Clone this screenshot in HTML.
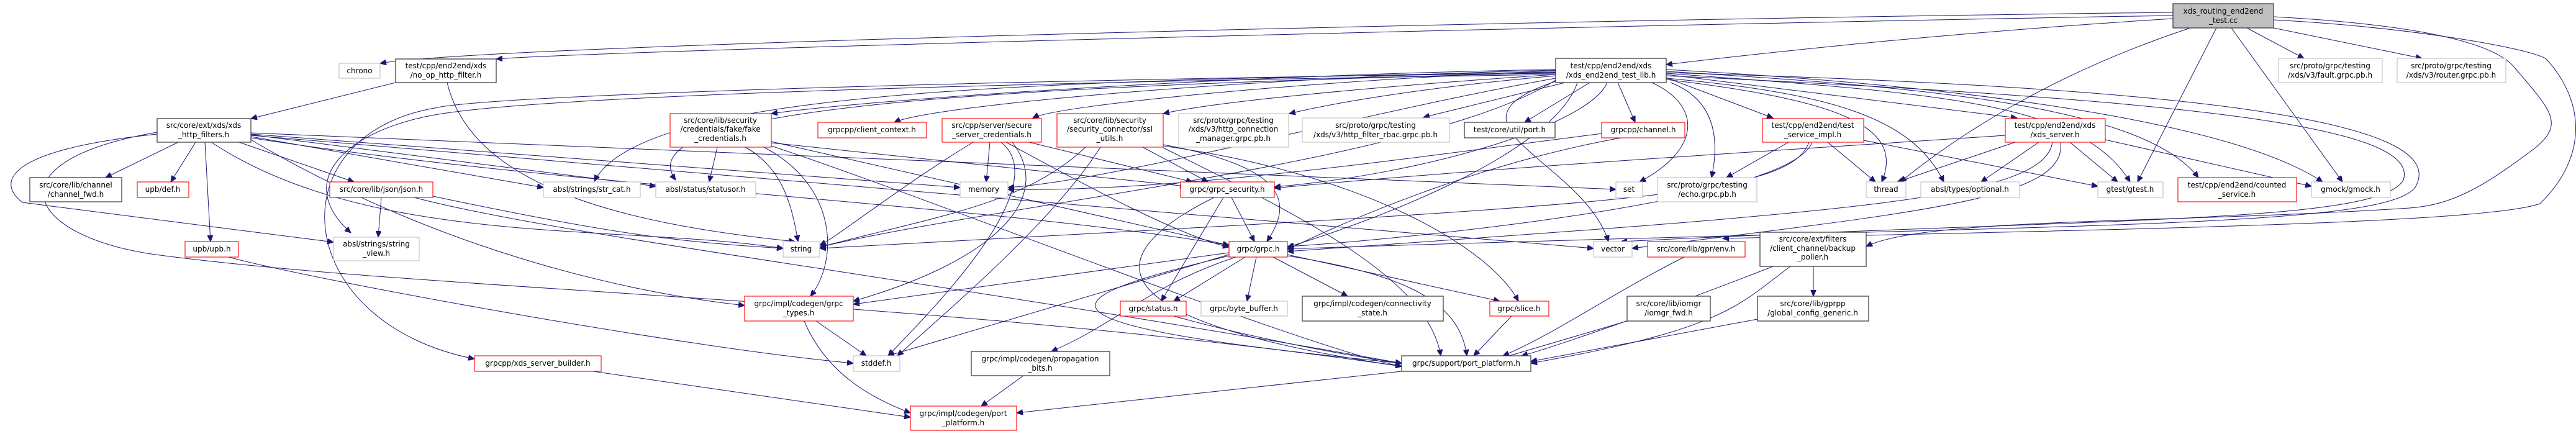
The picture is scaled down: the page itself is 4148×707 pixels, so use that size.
<!DOCTYPE html>
<html><head><meta charset="utf-8"><style>
html,body{margin:0;padding:0;background:#fff;}
svg{display:block;}
text{font-family:"DejaVu Sans","Liberation Sans",sans-serif;font-size:12px;fill:#000;text-anchor:middle;}
.k{fill:#fff;stroke:#404040;stroke-width:1.3;}
.r{fill:#fff;stroke:#ff0000;stroke-width:1.1;}
.g{fill:#fff;stroke:#bfbfbf;stroke-width:1.1;}
.root{fill:#bfbfbf;stroke:#404040;stroke-width:1.3;}
path{fill:none;stroke:#191970;stroke-width:1;marker-end:url(#a);}
</style></head><body>
<svg width="4148" height="707" viewBox="0 0 4148 707" xmlns="http://www.w3.org/2000/svg">
<defs><marker id="a" markerUnits="userSpaceOnUse" markerWidth="11" markerHeight="9" refX="10" refY="4.5" orient="auto"><polygon points="0,0 10,4.5 0,9" fill="#191970" stroke="#191970"/></marker></defs>

<!-- edges from root -->
<path d="M3499,20 C2600,30 800,70 612,102"/>
<path d="M3499,25 C2600,40 1000,80 799,95"/>
<path d="M3499,30 C3100,55 2800,90 2683,104"/>
<path d="M3618,45 L3710,94"/>
<path d="M3661,45 L3900,94"/>
<path d="M3593,45 L3772,293"/>
<path d="M3569,45 L3442,293"/>
<path d="M3527,45 C3300,120 3150,220 3060,293"/>
<path d="M3661,27 C3900,40 4020,70 4050,110 C4110,180 4130,200 4080,240 C4000,300 3950,330 3880,335 C3500,360 3100,350 3005,397"/>
<path d="M3661,32 C3900,45 4080,80 4100,95 C4160,160 4170,250 4090,328 C4000,360 3400,370 2774,384"/>

<!-- lib.h edges -->
<path d="M2505,120 C1800,130 900,150 700,185 C560,210 470,290 565,375"/>
<path d="M2505,118 C1800,125 800,150 700,174 C440,220 470,520 764,578"/>
<path d="M2505,116 C1600,130 1030,150 957,292"/>
<path d="M2505,117 C1600,140 1000,170 1088,290"/>
<path d="M2505,112 C2000,120 1400,160 1242,183"/>
<path d="M2505,113 C2000,125 1500,170 1440,197"/>
<path d="M2505,114 C2100,130 1700,170 1663,190"/>
<path d="M2505,120 C2200,140 1950,165 1873,183"/>
<path d="M2505,122 C2300,140 2150,165 2076,183"/>
<path d="M2520,133 L2292,189"/>
<path d="M2560,133 L2455,197"/>
<path d="M2605,133 L2633,197"/>
<path d="M2660,133 C2740,170 2740,240 2640,293"/>
<path d="M2690,133 C2760,160 2770,220 2756,286"/>
<path d="M2505,126 C2200,180 1800,290 1623,302"/>
<path d="M2505,129 C2300,260 1600,330 1320,398"/>
<path d="M2588,133 C2560,200 2300,280 2052,301"/>
<path d="M2540,133 C2500,250 2200,360 2073,398"/>
<path d="M2505,131 C2300,200 2550,260 2590,389"/>
<path d="M2683,118 C3100,150 3350,160 3430,293"/>
<path d="M2683,125 L2855,190"/>
<path d="M2683,120 L3248,190"/>
<path d="M2683,115 C3100,140 3450,170 3540,286"/>
<path d="M2683,112 C3200,140 3600,200 3740,293"/>
<path d="M2683,128 C2950,160 3070,200 3030,293"/>
<path d="M2683,126 C2950,150 3080,190 3130,293"/>
<path d="M2683,122 C3500,160 3900,200 3870,290 C3830,360 3400,350 2610,389"/>
<path d="M2683,117 C3500,140 3950,190 3890,300 C3850,370 3300,360 2100,400 L2073,400"/>

<!-- no_op edges -->
<path d="M637,133 L404,191"/>
<path d="M720,133 C760,300 1000,360 1280,389"/>

<!-- xds_http_filters edges -->
<path d="M287,229 L170,286"/>
<path d="M315,229 L275,293"/>
<path d="M330,229 L339,389"/>
<path d="M385,229 L570,293"/>
<path d="M253,216 C20,240 -10,290 36,326 L537,390"/>
<path d="M253,213 C-20,260 40,380 250,410 C700,470 1500,480 2257,590"/>
<path d="M340,229 C600,400 1000,360 1261,400"/>
<path d="M404,225 C700,400 1000,470 1199,492"/>
<path d="M404,220 L875,302"/>
<path d="M404,217 L1056,300"/>
<path d="M404,216 L1546,302"/>
<path d="M404,214 L2602,305"/>
<path d="M404,218 L2566,400"/>
<path d="M404,222 C900,300 1600,330 1979,395"/>
<path d="M368,414 C500,450 1100,560 1374,585"/>

<!-- fake_credentials -->
<path d="M1155,237 L1142,293"/>
<path d="M1200,237 C1260,270 1275,330 1285,389"/>
<path d="M1230,237 C1350,300 1350,420 1305,477"/>
<path d="M1242,228 L1979,395"/>
<path d="M1242,230 L1910,300"/>
<path d="M1242,235 C1500,320 2100,560 2257,590"/>

<!-- secure_server_credentials -->
<path d="M1594,229 L1588,293"/>
<path d="M1567,229 C1450,300 1350,380 1320,395"/>
<path d="M1612,229 C1700,300 1500,500 1430,573"/>
<path d="M1630,229 C1700,320 1600,420 1374,485"/>
<path d="M1657,229 L1920,293"/>
<path d="M1620,229 C1750,300 1900,380 1979,398"/>

<!-- ssl_utils -->
<path d="M1840,237 L1945,293"/>
<path d="M1873,233 C2080,270 2080,330 2040,389"/>
<path d="M1772,237 C1700,350 1550,480 1445,573"/>
<path d="M1748,237 C1650,330 1500,350 1320,398"/>
<path d="M1873,235 C2200,280 2400,400 2445,485"/>
<path d="M1873,238 C2100,350 2300,450 2320,573"/>

<!-- channel.h -->
<path d="M2610,222 C2400,260 2200,340 2073,402"/>
<path d="M2580,215 C2300,250 1900,310 1623,305"/>

<!-- grpc_security -->
<path d="M1983,318 L2020,389"/>
<path d="M1970,318 L1870,485"/>
<path d="M1955,318 C1750,420 1780,520 2257,590"/>

<!-- grpc.h -->
<path d="M2005,414 L1890,485"/>
<path d="M2023,414 L2008,485"/>
<path d="M2050,414 L2170,477"/>
<path d="M2073,410 L2415,485"/>
<path d="M2073,412 C2250,440 2350,480 2362,573"/>
<path d="M1979,410 L1430,573"/>
<path d="M1979,407 L1374,490"/>
<path d="M1990,414 C1850,460 1800,520 1693,566"/>
<path d="M1979,412 C1700,480 1600,520 2257,585"/>

<path d="M1890,509 C2000,540 2150,570 2257,585"/>
<path d="M2434,509 L2373,573"/>
<path d="M1314,517 L1395,573"/>
<path d="M1295,517 C1330,600 1400,640 1466,665"/>
<path d="M1648,605 L1580,654"/>
<path d="M2257,598 L1637,665"/>
<path d="M955,598 L1466,672"/>

<!-- backup poller etc -->
<path d="M2920,429 L2920,477"/>
<path d="M2855,429 C2700,490 2500,560 2450,573"/>
<path d="M2883,429 C2800,490 2780,530 2465,585"/>
<path d="M2830,514 L2465,582"/>
<path d="M2620,517 L2420,576"/>
<path d="M2712,414 C2600,470 2500,540 2420,573"/>

<!-- json -->
<path d="M614,318 L609,382"/>
<path d="M697,316 C1000,380 1100,390 1261,400"/>
<path d="M667,318 C900,380 1500,450 2257,585"/>

<!-- test_service_impl -->
<path d="M2943,229 L3020,293"/>
<path d="M3001,226 L3378,300"/>
<path d="M2880,229 L2780,286"/>
<path d="M2913,229 C2880,320 2600,330 1320,400"/>
<path d="M2918,229 C2880,330 2200,390 2073,397"/>

<!-- xds_server -->
<path d="M3245,229 L3055,293"/>
<path d="M3283,229 L3190,293"/>
<path d="M3333,229 L3410,293"/>
<path d="M3390,225 L3722,300"/>
<path d="M3229,218 C2900,240 2400,270 2052,303"/>
<path d="M3305,229 C3290,320 3000,340 2073,405"/>
<path d="M3318,229 C3330,320 3100,340 2628,400"/>

<!-- nodes -->
<rect class="root" x="3499" y="6" width="162" height="39"/>
<text x="3580" y="22">xds_routing_end2end</text><text x="3580" y="37">_test.cc</text>

<rect class="k" x="2505" y="94" width="178" height="39"/>
<text x="2594" y="110">test/cpp/end2end/xds</text><text x="2594" y="125">/xds_end2end_test_lib.h</text>

<rect class="k" x="637" y="95" width="162" height="38"/>
<text x="718" y="110">test/cpp/end2end/xds</text><text x="718" y="125">/no_op_http_filter.h</text>

<rect class="g" x="546" y="102" width="66" height="24"/><text x="579" y="118">chrono</text>

<rect class="g" x="3669" y="94" width="167" height="39"/>
<text x="3752" y="110">src/proto/grpc/testing</text><text x="3752" y="125">/xds/v3/fault.grpc.pb.h</text>
<rect class="g" x="3860" y="94" width="175" height="39"/>
<text x="3947" y="110">src/proto/grpc/testing</text><text x="3947" y="125">/xds/v3/router.grpc.pb.h</text>

<rect class="k" x="253" y="191" width="151" height="38"/>
<text x="328" y="206">src/core/ext/xds/xds</text><text x="328" y="221">_http_filters.h</text>

<rect class="r" x="1079" y="183" width="163" height="54"/>
<text x="1160" y="198">src/core/lib/security</text><text x="1160" y="212">/credentials/fake/fake</text><text x="1160" y="227">_credentials.h</text>

<rect class="r" x="1317" y="197" width="175" height="25"/><text x="1404" y="213">grpcpp/client_context.h</text>

<rect class="r" x="1517" y="191" width="160" height="38"/>
<text x="1597" y="206">src/cpp/server/secure</text><text x="1597" y="221">_server_credentials.h</text>

<rect class="r" x="1702" y="183" width="171" height="54"/>
<text x="1787" y="198">src/core/lib/security</text><text x="1787" y="212">/security_connector/ssl</text><text x="1787" y="227">_utils.h</text>

<rect class="g" x="1898" y="183" width="177" height="54"/>
<text x="1986" y="198">src/proto/grpc/testing</text><text x="1986" y="212">/xds/v3/http_connection</text><text x="1986" y="227">_manager.grpc.pb.h</text>

<rect class="g" x="2097" y="190" width="237" height="39"/>
<text x="2215" y="206">src/proto/grpc/testing</text><text x="2215" y="221">/xds/v3/http_filter_rbac.grpc.pb.h</text>

<rect class="k" x="2358" y="197" width="146" height="25"/><text x="2431" y="213">test/core/util/port.h</text>
<rect class="r" x="2579" y="197" width="134" height="25"/><text x="2646" y="213">grpcpp/channel.h</text>

<rect class="r" x="2838" y="191" width="163" height="38"/>
<text x="2919" y="206">test/cpp/end2end/test</text><text x="2919" y="221">_service_impl.h</text>
<rect class="r" x="3229" y="191" width="161" height="38"/>
<text x="3309" y="206">test/cpp/end2end/xds</text><text x="3309" y="221">/xds_server.h</text>

<rect class="k" x="48" y="286" width="148" height="39"/>
<text x="122" y="302">src/core/lib/channel</text><text x="122" y="317">/channel_fwd.h</text>
<rect class="r" x="221" y="293" width="83" height="25"/><text x="262" y="309">upb/def.h</text>
<rect class="r" x="531" y="293" width="166" height="25"/><text x="614" y="309">src/core/lib/json/json.h</text>
<rect class="g" x="875" y="293" width="156" height="25"/><text x="953" y="309">absl/strings/str_cat.h</text>
<rect class="g" x="1056" y="293" width="161" height="25"/><text x="1136" y="309">absl/status/statusor.h</text>
<rect class="g" x="1546" y="293" width="77" height="25"/><text x="1584" y="309">memory</text>
<rect class="r" x="1901" y="293" width="151" height="25"/><text x="1976" y="309">grpc/grpc_security.h</text>
<rect class="g" x="2602" y="293" width="43" height="25"/><text x="2623" y="309">set</text>
<rect class="g" x="2669" y="286" width="160" height="39"/>
<text x="2749" y="302">src/proto/grpc/testing</text><text x="2749" y="317">/echo.grpc.pb.h</text>
<rect class="g" x="3005" y="293" width="64" height="25"/><text x="3037" y="309">thread</text>
<rect class="g" x="3093" y="293" width="159" height="25"/><text x="3172" y="309">absl/types/optional.h</text>
<rect class="g" x="3378" y="293" width="105" height="25"/><text x="3430" y="309">gtest/gtest.h</text>
<rect class="r" x="3507" y="286" width="191" height="39"/>
<text x="3602" y="302">test/cpp/end2end/counted</text><text x="3602" y="317">_service.h</text>
<rect class="g" x="3722" y="293" width="127" height="25"/><text x="3785" y="309">gmock/gmock.h</text>

<rect class="r" x="298" y="389" width="86" height="25"/><text x="341" y="405">upb/upb.h</text>
<rect class="g" x="537" y="382" width="138" height="38"/>
<text x="606" y="397">absl/strings/string</text><text x="606" y="412">_view.h</text>
<rect class="g" x="1261" y="389" width="59" height="25"/><text x="1290" y="405">string</text>
<rect class="r" x="1979" y="389" width="94" height="25"/><text x="2026" y="405">grpc/grpc.h</text>
<rect class="g" x="2566" y="389" width="62" height="25"/><text x="2597" y="405">vector</text>
<rect class="r" x="2653" y="389" width="157" height="25"/><text x="2731" y="405">src/core/lib/gpr/env.h</text>
<rect class="k" x="2834" y="374" width="171" height="55"/>
<text x="2919" y="389">src/core/ext/filters</text><text x="2919" y="404">/client_channel/backup</text><text x="2919" y="418">_poller.h</text>

<rect class="r" x="1199" y="477" width="175" height="40"/>
<text x="1286" y="493">grpc/impl/codegen/grpc</text><text x="1286" y="508">_types.h</text>
<rect class="r" x="1804" y="485" width="106" height="24"/><text x="1857" y="501">grpc/status.h</text>
<rect class="g" x="1934" y="485" width="139" height="24"/><text x="2003" y="501">grpc/byte_buffer.h</text>
<rect class="k" x="2097" y="477" width="227" height="40"/>
<text x="2210" y="493">grpc/impl/codegen/connectivity</text><text x="2210" y="508">_state.h</text>
<rect class="r" x="2399" y="485" width="95" height="24"/><text x="2446" y="501">grpc/slice.h</text>
<rect class="k" x="2620" y="477" width="134" height="40"/>
<text x="2687" y="493">src/core/lib/iomgr</text><text x="2687" y="508">/iomgr_fwd.h</text>
<rect class="k" x="2830" y="477" width="179" height="40"/>
<text x="2919" y="493">src/core/lib/gprpp</text><text x="2919" y="508">/global_config_generic.h</text>

<rect class="r" x="764" y="573" width="204" height="25"/><text x="866" y="589">grpcpp/xds_server_builder.h</text>
<rect class="g" x="1374" y="573" width="75" height="25"/><text x="1411" y="589">stddef.h</text>
<rect class="k" x="1564" y="566" width="223" height="39"/>
<text x="1675" y="582">grpc/impl/codegen/propagation</text><text x="1675" y="597">_bits.h</text>
<rect class="k" x="2257" y="573" width="208" height="25"/><text x="2361" y="589">grpc/support/port_platform.h</text>
<rect class="r" x="1466" y="654" width="171" height="39"/>
<text x="1551" y="670">grpc/impl/codegen/port</text><text x="1551" y="685">_platform.h</text>
</svg>
</body></html>
